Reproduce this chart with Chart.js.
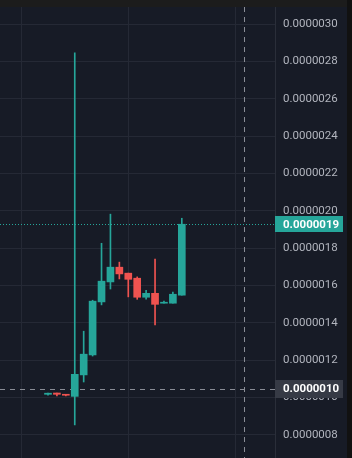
<!DOCTYPE html>
<html><head><meta charset="utf-8">
<script src="https://cdn.jsdelivr.net/npm/chart.js@4"></script>
<style>
html,body{margin:0;padding:0;background:#1c1c1c;width:352px;height:458px;overflow:hidden}
#wrap{position:absolute;left:0;top:7px;width:347px;height:451px;background:#171b26}
#edge{position:absolute;left:347px;top:0;width:5px;height:458px;background:#111111}
</style></head><body>
<div id="wrap"><canvas id="c" width="347" height="451"></canvas></div><div id="edge"></div>
<script>
// ---- data ----
const candleIndex = [0, 1, 2, 3, 4, 5, 6, 7, 8, 9, 10, 11, 12, 13, 14, 15];
const openVals  = [0.000001017, 0.000001024, 0.000001017, 0.000001006, 0.000001121, 0.000001228, 0.000001512, 0.000001619, 0.000001698, 0.000001666, 0.000001639, 0.000001537, 0.000001558, 0.000001505, 0.000001505, 0.000001548];
const highVals  = [0.000001023, 0.000001024, 0.000001017, 0.000002846, 0.000001355, 0.000001521, 0.000001826, 0.000001982, 0.000001725, 0.000001666, 0.000001646, 0.000001574, 0.000001742, 0.000001516, 0.000001564, 0.000001960];
const lowVals   = [0.000001012, 0.000001008, 0.000001008, 0.000000853, 0.000001083, 0.000001222, 0.000001496, 0.000001581, 0.000001635, 0.000001539, 0.000001526, 0.000001526, 0.000001389, 0.000001505, 0.000001505, 0.000001548];
const closeVals = [0.000001023, 0.000001017, 0.000001012, 0.000001124, 0.000001232, 0.000001516, 0.000001623, 0.000001698, 0.000001662, 0.000001633, 0.000001537, 0.000001558, 0.000001499, 0.000001510, 0.000001553, 0.000001928];
const yTickVals = [0.0000008, 0.0000010, 0.0000012, 0.0000014, 0.0000016, 0.0000018, 0.0000020, 0.0000022, 0.0000024, 0.0000026, 0.0000028, 0.0000030];
const xGridIdx = [-3, 9, 21];
const crosshairIndex = 22;
const crosshairValue = 0.000001048;

// ---- style ----
const UP = '#26a69a', DOWN = '#ef5350';
const GRID = '#252935';
const TEXT = '#b2b5be';
const FONT = 'Roboto';

const colors = candleIndex.map((_, i) => closeVals[i] >= openVals[i] ? UP : DOWN);
const wickData = candleIndex.map((x, i) => ({x: x, y: [lowVals[i], highVals[i]]}));
const bodyData = candleIndex.map((x, i) => ({x: x, y: [openVals[i], closeVals[i]]}));
const lastClose = closeVals[closeVals.length - 1];

const overlay = {
  id: 'overlay',
  beforeDatasetsDraw(chart) {
    const {ctx, chartArea: a, scales: {x, y}} = chart;
    ctx.save();
    ctx.lineWidth = 1;
    const py = Math.round(y.getPixelForValue(lastClose)) + 0.5;
    ctx.strokeStyle = UP;
    ctx.setLineDash([1, 2]);
    ctx.beginPath(); ctx.moveTo(a.left, py); ctx.lineTo(a.right, py); ctx.stroke();
    ctx.strokeStyle = '#8a8d96';
    ctx.setLineDash([5, 5]);
    const cy = Math.round(y.getPixelForValue(crosshairValue)) + 0.5;
    const cx = Math.round(x.getPixelForValue(crosshairIndex)) + 0.5;
    ctx.beginPath(); ctx.moveTo(a.left, cy); ctx.lineTo(a.right, cy); ctx.stroke();
    ctx.beginPath(); ctx.moveTo(cx, a.top); ctx.lineTo(cx, a.bottom); ctx.stroke();
    ctx.restore();
  },
  afterDraw(chart) {
    const {ctx, chartArea: a, scales: {y}} = chart;
    const box = (val, bg, h) => {
      const yy = y.getPixelForValue(val);
      ctx.fillStyle = bg;
      ctx.fillRect(a.right, Math.round(yy - h / 2), 68, h);
      ctx.fillStyle = '#ffffff';
      ctx.font = 'bold 11.5px ' + FONT;
      ctx.textBaseline = 'middle';
      ctx.textAlign = 'left';
      ctx.fillText(val.toFixed(7), a.right + 8, yy + 0.5);
    };
    ctx.save();
    box(lastClose, UP, 16);
    box(crosshairValue, '#363a45', 18);
    ctx.restore();
  }
};

new Chart(document.getElementById('c'), {
  type: 'bar',
  data: {
    datasets: [
      {data: wickData, backgroundColor: colors, grouped: false, barPercentage: 1, categoryPercentage: 1, maxBarThickness: 1, borderWidth: 0},
      {data: bodyData, backgroundColor: colors, grouped: false, barPercentage: 1, categoryPercentage: 1, maxBarThickness: 7, borderWidth: 0, minBarLength: 1}
    ]
  },
  options: {
    responsive: false,
    animation: false,
    devicePixelRatio: 1,
    layout: {padding: 0},
    plugins: {legend: {display: false}, tooltip: {enabled: false}},
    scales: {
      x: {
        type: 'linear', min: -5.381, max: 25.448, offset: false,
        grid: {color: GRID, drawTicks: false, offset: false},
        border: {display: false},
        ticks: {display: false},
        afterBuildTicks: s => { s.ticks = xGridIdx.map(v => ({value: v})); },
        afterFit: s => { s.height = 0; }
      },
      y: {
        type: 'linear', position: 'right',
        min: 0.0000006759, max: 0.0000030916,
        grid: {color: GRID, drawTicks: false},
        border: {display: true, color: '#2a2e39'},
        ticks: {padding: 8, color: TEXT, font: {family: FONT, size: 11.5}, autoSkip: false,
                callback: v => Number(v).toFixed(7)},
        afterBuildTicks: s => { s.ticks = yTickVals.map(v => ({value: v})); },
        afterFit: s => { s.width = 72; s.paddingTop = 0; s.paddingBottom = 0; }
      }
    }
  },
  plugins: [overlay]
});
</script>
</body></html>
